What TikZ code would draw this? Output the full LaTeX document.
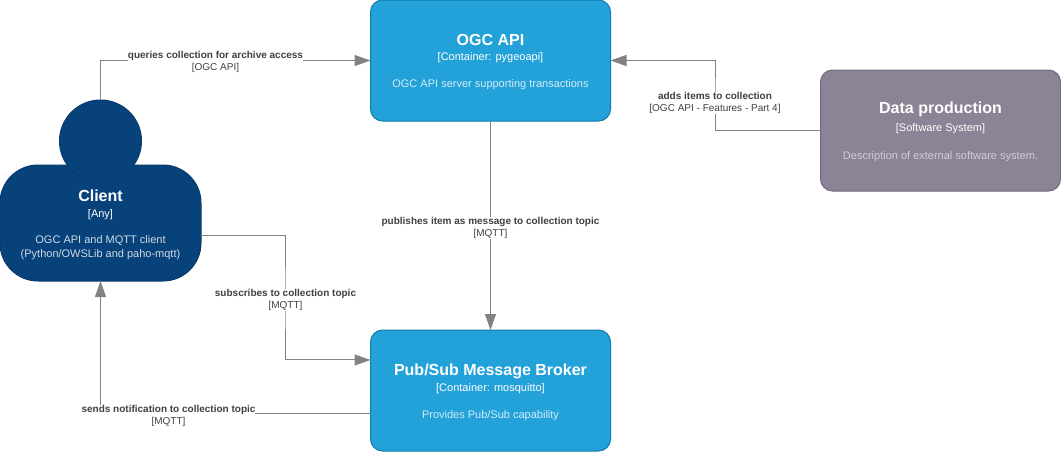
\documentclass[tikz,border=0pt]{standalone}
\usepackage{fontspec}
\setmainfont{Liberation Sans}
\usetikzlibrary{arrows.meta}
\definecolor{c4blue}{HTML}{23A2D9}
\definecolor{c4blueline}{HTML}{0E7DAD}
\definecolor{c4navy}{HTML}{08427B}
\definecolor{c4navyline}{HTML}{073B6F}
\definecolor{c4grey}{HTML}{8C8496}
\definecolor{c4greyline}{HTML}{736782}
\definecolor{c4wire}{HTML}{828282}
\definecolor{c4label}{HTML}{404040}
\colorlet{descblue}{white!80!c4blue}
\colorlet{descnavy}{white!80!c4navy}
\colorlet{descgrey}{white!60!c4grey}
\newcommand{\boxtitle}[1]{{\fontsize{12}{10.5}\selectfont\bfseries\rule{0pt}{11pt}#1}}
\newcommand{\wirehead}[1]{{\bfseries #1}}
\tikzset{
  c4card/.style={align=center,text=white,outer sep=0pt,inner sep=0pt,line width=0.75pt,
    minimum width=180pt,minimum height=90.75pt,rounded corners=9pt,
    font=\fontsize{8.25}{10.5}\selectfont},
  container/.style={c4card,fill=c4blue,draw=c4blueline},
  system/.style={c4card,fill=c4grey,draw=c4greyline},
  personbody/.style={c4card,fill=c4navy,draw=c4navyline,minimum width=150.75pt,minimum height=87pt,rounded corners=28.5pt},
  personhead/.style={circle,fill=c4navy,draw=c4navyline,line width=0.75pt,minimum size=61.5pt,inner sep=0pt,outer sep=0pt},
  wire/.style={draw=c4wire,line width=0.75pt,-{Triangle[length=12pt,width=8.25pt,fill=c4wire]}},
  wirelabel/.style={align=center,fill=white,inner sep=0pt,text=c4label,font=\fontsize{7.5}{9}\selectfont}
}
\begin{document}
\begin{tikzpicture}[x=0.75pt,y=-0.75pt]
\useasboundingbox (0,0) rectangle (1061,451);
% person
\node[personbody] (client) at (100.5,223) {\boxtitle{Client}\\[1.95pt][Any]\\[8.5pt]\textcolor{descnavy}{OGC API and MQTT client}\\\textcolor{descnavy}{(Python/OWSLib and paho-mqtt)}};
\node[personhead] (head) at (100.5,141) {};
% boxes
\node[container] (ogc) at (490.5,60.5) {\boxtitle{OGC API}\\[1.2pt][Container: pygeoapi]\\[9.75pt]\textcolor{descblue}{OGC API server supporting transactions}};
\node[container] (broker) at (490.5,390.5) {\boxtitle{Pub/Sub Message Broker}\\[1.2pt][Container: mosquitto]\\[9.75pt]\textcolor{descblue}{Provides Pub/Sub capability}};
\node[system] (dp) at (940.5,130.5) {\boxtitle{Data production}\\[2.7pt][Software System]\\[10.5pt]\textcolor{descgrey}{Description of external software system.}};
% connectors
\draw[wire] (head.north) |- (ogc.west);
\draw[wire] (dp.west) -| (715,95) |- (ogc.east);
\draw[wire] (ogc.south) -- (broker.north);
\draw[wire] ([yshift=-9.4pt]client.east) -| (285,300) |- ([yshift=22.9pt]broker.west);
\draw[wire] ([yshift=-17pt]broker.west) -| (client.south);
% labels
\node[wirelabel] (l1) at (215.5,62) {\wirehead{queries collection for archive access}\\{}[OGC API]};
\node[wirelabel] (l2) at (715,103) {\wirehead{adds items to collection}\\{}[OGC API - Features - Part 4]};
\node[wirelabel] (l3) at (490.5,228) {\wirehead{publishes item as message to collection topic}\\{}[MQTT]};
\node[wirelabel] (l4) at (285.5,300) {\wirehead{subscribes to collection topic}\\{}[MQTT]};
\node[wirelabel] (l5) at (168.5,416) {\wirehead{sends notification to collection topic}\\{}[MQTT]};
\end{tikzpicture}
\end{document}
